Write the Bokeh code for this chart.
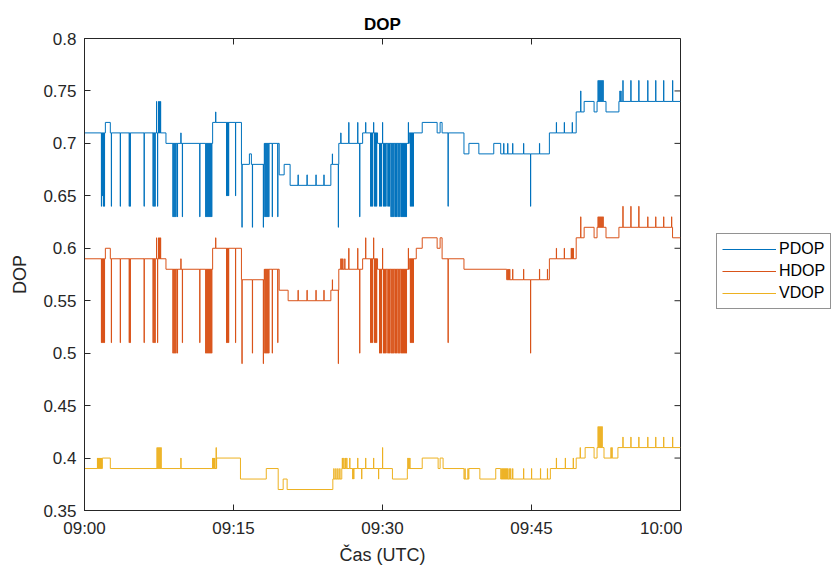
import numpy as np
from bokeh.plotting import figure
from bokeh.layouts import row
from bokeh.models import Range1d, FixedTicker, Legend, LegendItem
from bokeh.embed import file_html
from bokeh.resources import INLINE

# ---- tick definitions (minutes after 09:00) ----
x_tick_min = [0, 15, 30, 45, 60]
x_tick_labels = ["09:00", "09:15", "09:30", "09:45", "10:00"]
y_ticks = [0.35, 0.4, 0.45, 0.5, 0.55, 0.6, 0.65, 0.7, 0.75, 0.8]
y_tick_labels = ["0.35", "0.4", "0.45", "0.5", "0.55", "0.6", "0.65", "0.7", "0.75", "0.8"]

series_names = ["PDOP", "HDOP", "VDOP"]

# ---- PDOP: step levels (time of change, new level) ----
pdop_step_t = [0, 2.1, 2.6, 8.2, 12.9, 15.8, 16.6, 16.8, 18.1, 19.6, 20.1, 20.7, 24.8, 25.6,
               28.0, 29.5, 32.7, 34.0, 35.5, 35.8, 36.0, 38.2, 38.7, 39.7, 41.2, 41.9, 46.8,
               49.5, 50.3, 51.3, 51.6, 52.5, 53.8]
pdop_step_v = [0.71, 0.72, 0.71, 0.70, 0.72, 0.68, 0.69, 0.68, 0.70, 0.67, 0.68, 0.66, 0.68, 0.70,
               0.71, 0.70, 0.71, 0.72, 0.71, 0.72, 0.71, 0.69, 0.70, 0.69, 0.70, 0.69, 0.71,
               0.73, 0.74, 0.73, 0.74, 0.73, 0.74]
# PDOP short spikes (time, extreme value)
pdop_spike_t = [1.7, 1.8, 1.9, 2.0, 2.7, 3.6, 4.5, 4.6, 6.0, 6.9, 7.0, 7.1,
                7.25, 7.35, 7.45, 7.55, 7.65,
                8.9, 9.0, 9.1, 9.2, 9.35, 9.7, 9.85, 11.6,
                12.2, 12.3, 12.4, 12.5, 12.6, 12.7, 12.8, 13.2,
                14.3, 14.4, 14.5, 15.2, 15.85, 16.9, 18.0,
                18.15, 18.25, 18.35, 18.45, 18.55, 18.9, 19.45,
                21.5, 22.4, 23.3, 24.1, 24.95, 25.55, 25.8,
                26.6, 27.5, 28.3, 29.1, 30.0, 27.7,
                28.8, 28.9, 29.0, 29.2, 29.3, 29.4,
                29.7, 29.8, 29.9, 30.1, 30.2, 30.3, 30.45, 30.6, 30.7,
                30.85, 30.95, 31.05, 31.15, 31.3, 31.4, 31.55, 31.65, 31.75, 31.9,
                32.0, 32.1, 32.2, 32.3, 32.4, 32.6, 32.8, 32.9, 33.0, 33.1,
                36.6, 42.2, 42.6, 43.1, 44.2, 45.8, 44.9,
                47.5, 48.3, 49.1, 49.95,
                51.7, 51.8, 51.9, 52.0, 52.1, 52.2, 53.9, 54.0,
                54.2, 55.0, 55.8, 56.7, 57.5, 58.3, 59.2]
pdop_spike_v = [0.64, 0.65, 0.64, 0.64, 0.64, 0.64, 0.64, 0.64, 0.64, 0.64, 0.64, 0.64,
                0.74, 0.64, 0.74, 0.74, 0.74,
                0.63, 0.63, 0.63, 0.63, 0.63, 0.71, 0.63, 0.63,
                0.63, 0.63, 0.63, 0.63, 0.63, 0.63, 0.63, 0.73,
                0.65, 0.65, 0.65, 0.65, 0.62, 0.62, 0.62,
                0.63, 0.63, 0.63, 0.63, 0.63, 0.63, 0.63,
                0.67, 0.67, 0.67, 0.67, 0.69, 0.62, 0.71,
                0.72, 0.72, 0.72, 0.72, 0.72, 0.63,
                0.64, 0.64, 0.64, 0.64, 0.64, 0.64,
                0.64, 0.64, 0.64, 0.64, 0.64, 0.64, 0.64, 0.64, 0.64,
                0.63, 0.63, 0.63, 0.63, 0.63, 0.63, 0.63, 0.63, 0.63, 0.63,
                0.63, 0.63, 0.63, 0.63, 0.63, 0.72, 0.64, 0.64, 0.64, 0.64,
                0.64, 0.70, 0.70, 0.70, 0.70, 0.70, 0.64,
                0.72, 0.72, 0.72, 0.75,
                0.76, 0.76, 0.76, 0.76, 0.76, 0.76, 0.75, 0.75,
                0.76, 0.76, 0.76, 0.76, 0.76, 0.76, 0.76]

# ---- HDOP ----
hdop_step_t = [0, 2.1, 2.6, 8.2, 12.9, 15.8, 18.1, 19.6, 20.5, 24.8, 25.6, 28.0, 29.5, 32.7,
               33.4, 34.0, 35.5, 35.8, 36.0, 38.2, 42.5, 46.8, 49.5, 50.3, 51.3, 51.6, 52.5,
               53.8, 59.2]
hdop_step_v = [0.59, 0.60, 0.59, 0.58, 0.60, 0.57, 0.58, 0.56, 0.55, 0.56, 0.58, 0.59, 0.58, 0.59,
               0.60, 0.61, 0.60, 0.61, 0.59, 0.58, 0.57, 0.59, 0.61, 0.62, 0.61, 0.62, 0.61,
               0.62, 0.61]
hdop_spike_t = [1.7, 1.8, 1.9, 2.0, 2.7, 3.6, 4.5, 4.6, 6.0, 6.9, 7.0, 7.1,
                7.25, 7.35, 7.45, 7.55, 7.65,
                8.9, 9.0, 9.1, 9.2, 9.35, 9.7, 9.85, 11.6,
                12.2, 12.3, 12.4, 12.5, 12.6, 12.7, 12.8, 13.2,
                14.3, 14.4, 14.5, 15.2, 15.85, 16.9, 18.0,
                18.15, 18.25, 18.35, 18.45, 18.55, 18.9, 19.45,
                21.5, 22.4, 23.3, 24.1, 24.95, 25.55,
                25.8, 25.9, 26.0, 26.2, 26.6, 27.5, 28.3, 29.1, 30.0, 27.7,
                28.8, 28.9, 29.0, 29.2, 29.3, 29.4,
                29.7, 29.8, 29.9, 30.1, 30.2, 30.3, 30.45, 30.6, 30.7,
                30.85, 30.95, 31.05, 31.15, 31.3, 31.4, 31.55, 31.65, 31.75, 31.9,
                32.0, 32.1, 32.2, 32.3, 32.4, 32.6, 32.8, 32.9, 33.0, 33.1,
                36.6, 42.6, 42.7, 42.8, 43.1, 44.2, 45.8, 46.6, 44.9,
                47.5, 48.3, 49.0, 49.1, 49.2, 49.95,
                51.7, 51.8, 51.9, 52.0, 52.1, 52.2,
                54.2, 55.0, 55.8, 56.7, 57.5, 58.3, 59.1]
hdop_spike_v = [0.51, 0.51, 0.51, 0.51, 0.51, 0.51, 0.51, 0.51, 0.51, 0.51, 0.51, 0.51,
                0.61, 0.51, 0.61, 0.61, 0.61,
                0.50, 0.50, 0.50, 0.50, 0.50, 0.59, 0.51, 0.51,
                0.50, 0.50, 0.50, 0.50, 0.50, 0.50, 0.50, 0.61,
                0.51, 0.51, 0.51, 0.51, 0.49, 0.50, 0.49,
                0.50, 0.50, 0.50, 0.50, 0.50, 0.50, 0.51,
                0.56, 0.56, 0.56, 0.56, 0.57, 0.49,
                0.59, 0.59, 0.59, 0.59, 0.60, 0.60, 0.61, 0.61, 0.60, 0.50,
                0.51, 0.51, 0.51, 0.51, 0.51, 0.51,
                0.50, 0.50, 0.50, 0.50, 0.50, 0.50, 0.50, 0.50, 0.50,
                0.50, 0.50, 0.50, 0.50, 0.50, 0.50, 0.50, 0.50, 0.50, 0.50,
                0.50, 0.50, 0.50, 0.50, 0.50, 0.60, 0.51, 0.51, 0.51, 0.51,
                0.51, 0.58, 0.58, 0.58, 0.58, 0.58, 0.58, 0.58, 0.50,
                0.60, 0.60, 0.60, 0.60, 0.60, 0.63,
                0.63, 0.63, 0.63, 0.63, 0.63, 0.63,
                0.64, 0.64, 0.64, 0.63, 0.63, 0.63, 0.63]

# ---- VDOP ----
vdop_step_t = [0, 1.8, 2.6, 13.3, 15.7, 18.3, 19.5, 20.0, 20.4, 25.0, 25.9, 31.0, 32.5, 34.0,
               35.6, 35.8, 36.1, 38.2, 38.7, 39.8, 41.4, 41.9, 46.9, 49.5, 50.4, 51.3, 51.6,
               52.3, 53.7]
vdop_step_v = [0.39, 0.40, 0.39, 0.40, 0.38, 0.39, 0.37, 0.38, 0.37, 0.38, 0.39, 0.38, 0.39, 0.40,
               0.39, 0.40, 0.39, 0.38, 0.39, 0.38, 0.39, 0.38, 0.39, 0.40, 0.41, 0.40, 0.41,
               0.40, 0.41]
vdop_spike_t = [1.3, 1.4, 1.5, 1.6, 1.7, 7.3, 7.4, 7.5, 7.6, 7.7, 9.7,
                12.9, 13.0, 13.1, 13.25,
                25.1, 25.3, 25.5, 25.7, 25.95, 26.1, 26.25, 26.4,
                26.7, 27.5, 28.3, 29.1, 27.0, 27.1, 27.9, 29.6, 30.0,
                32.55, 32.65, 32.75, 38.3, 38.6,
                42.0, 42.1, 42.2, 42.3, 42.4, 42.5, 42.6, 42.75, 42.9, 43.1,
                44.2, 45.0, 45.9, 46.6, 47.5, 48.4, 49.2, 49.9,
                51.7, 51.8, 51.9, 52.0, 52.1, 53.0, 53.1,
                54.2, 55.0, 55.8, 56.7, 57.5, 58.3, 59.2]
vdop_spike_v = [0.40, 0.40, 0.40, 0.40, 0.40, 0.41, 0.41, 0.41, 0.41, 0.41, 0.40,
                0.40, 0.40, 0.40, 0.41,
                0.39, 0.39, 0.39, 0.39, 0.40, 0.40, 0.40, 0.40,
                0.40, 0.40, 0.40, 0.40, 0.38, 0.38, 0.38, 0.38, 0.41,
                0.40, 0.40, 0.40, 0.39, 0.39,
                0.39, 0.39, 0.39, 0.39, 0.39, 0.39, 0.39, 0.39, 0.39, 0.39,
                0.39, 0.39, 0.39, 0.39, 0.40, 0.40, 0.40, 0.41,
                0.43, 0.43, 0.43, 0.43, 0.43, 0.41, 0.41,
                0.42, 0.42, 0.42, 0.42, 0.42, 0.42, 0.42]

colors = ["#0072BD", "#D95319", "#EDB120"]
axis_color = "#262626"
FONT = "Liberation Sans"

X0, X1 = 0.0, 60.0
Y0, Y1 = 0.35, 0.8
FRAME_W, FRAME_H = 596, 472
TICK_PX = 6
MAIN_W, SIDE_W, H = 682, 154, 567


def level_at(bt, bv, t):
    i = int(np.searchsorted(np.asarray(bt), t, side="right")) - 1
    return bv[max(i, 0)]


def build(bt, bv, st, sv, end=X1):
    pts = list(zip(bt, bv))
    for t, v in zip(st, sv):
        base = level_at(bt, bv, t)
        pts.append((t, v))
        pts.append((t + 0.02, base))
    pts.sort(key=lambda q: q[0])
    xs = [q[0] for q in pts] + [end]
    ys = [q[1] for q in pts] + [pts[-1][1]]
    return xs, ys


p = figure(width=MAIN_W, height=H, output_backend="svg", toolbar_location=None,
           x_range=Range1d(X0, X1), y_range=Range1d(Y0, Y1),
           min_border_left=84, min_border_right=2, min_border_top=38, min_border_bottom=57,
           background_fill_color="white", border_fill_color="white")
p.xgrid.visible = False
p.ygrid.visible = False
p.outline_line_color = axis_color
p.outline_line_width = 1

p.title.text = "DOP"
p.title.align = "center"
p.title.text_font = FONT
p.title.text_font_style = "bold"
p.title.text_font_size = "17px"
p.title.text_color = "#000000"

data = [
    (pdop_step_t, pdop_step_v, pdop_spike_t, pdop_spike_v),
    (hdop_step_t, hdop_step_v, hdop_spike_t, hdop_spike_v),
    (vdop_step_t, vdop_step_v, vdop_spike_t, vdop_spike_v),
]
built = []
for (bt, bv, st, sv), c in zip(data, colors):
    xs, ys = build(bt, bv, st, sv)
    built.append((xs, ys))
    p.step(xs, ys, mode="after", line_color=c, line_width=1)

# mirrored inward tick marks on the top and right edges (box on)
dx = TICK_PX * (X1 - X0) / FRAME_W
dy = TICK_PX * (Y1 - Y0) / FRAME_H
p.segment(x0=[X1] * len(y_ticks), x1=[X1 - dx] * len(y_ticks), y0=y_ticks, y1=y_ticks,
          line_color=axis_color, line_width=1)
p.segment(x0=x_tick_min, x1=x_tick_min, y0=[Y1] * len(x_tick_min), y1=[Y1 - dy] * len(x_tick_min),
          line_color=axis_color, line_width=1)

xax = p.xaxis[0]
xax.ticker = FixedTicker(ticks=x_tick_min)
xax.major_label_overrides = {t: lab for t, lab in zip(x_tick_min, x_tick_labels)}
xax.axis_label = "Čas (UTC)"
yax = p.yaxis[0]
yax.ticker = FixedTicker(ticks=y_ticks)
yax.major_label_overrides = {t: lab for t, lab in zip(y_ticks, y_tick_labels)}
yax.axis_label = "DOP"

for ax in (xax, yax):
    ax.axis_line_color = axis_color
    ax.major_tick_line_color = axis_color
    ax.major_tick_in = TICK_PX
    ax.major_tick_out = 0
    ax.minor_tick_line_color = None
    ax.major_label_text_font = FONT
    ax.major_label_text_font_size = "17px"
    ax.major_label_text_color = axis_color
    ax.axis_label_text_font = FONT
    ax.axis_label_text_font_size = "18px"
    ax.axis_label_text_font_style = "normal"
    ax.axis_label_text_color = axis_color
    ax.major_label_standoff = 8
xax.axis_label_standoff = 4
yax.axis_label_standoff = 10

# ---- legend panel to the right of the axes ----
# (same series drawn again in a panel whose visible range excludes them, used as legend keys)
side = figure(width=SIDE_W, height=H, output_backend="svg", toolbar_location=None,
              x_range=Range1d(X0 - 20, X0 - 10), y_range=Range1d(Y0, Y1),
              min_border_left=0, min_border_right=0, min_border_top=38, min_border_bottom=57,
              background_fill_color="white", border_fill_color="white")
side.axis.visible = False
side.xgrid.visible = False
side.ygrid.visible = False
side.outline_line_color = None
proxies = [side.line(x=xs, y=ys, line_color=c, line_width=1) for (xs, ys), c in zip(built, colors)]

legend = Legend(items=[LegendItem(label=n, renderers=[r]) for n, r in zip(series_names, proxies)],
                location=(34, 201), orientation="vertical",
                label_text_font=FONT, label_text_font_size="16px", label_text_color="#000000",
                glyph_width=54, glyph_height=20, label_height=20, label_standoff=3,
                spacing=2, padding=5, margin=0,
                border_line_color=axis_color, border_line_width=1,
                background_fill_color="white", background_fill_alpha=1.0)
side.add_layout(legend, "center")

layout = row(p, side)
open("out.html", "w").write(file_html(layout, INLINE))
